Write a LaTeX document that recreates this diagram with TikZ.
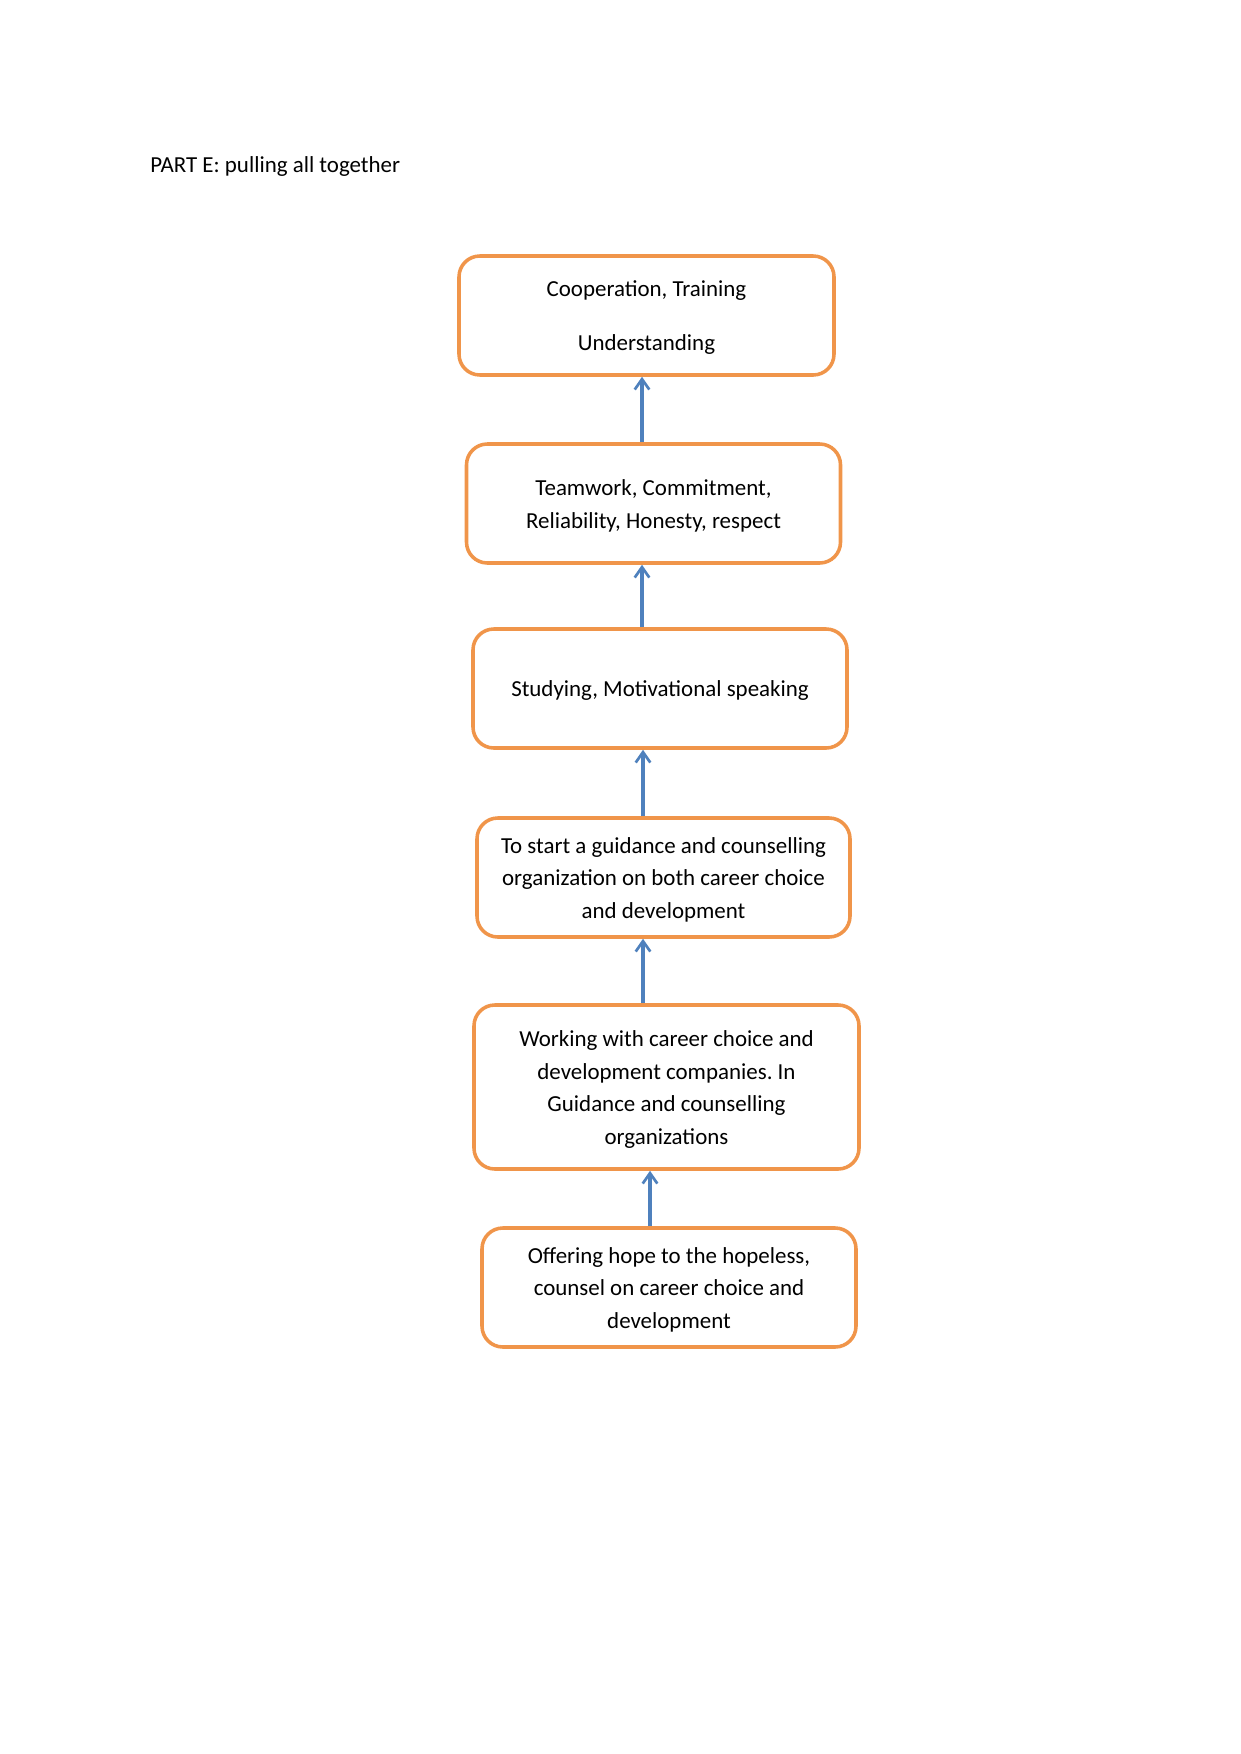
\documentclass[tikz,border=0pt]{standalone}
\usepackage{fontspec}
\setmainfont{Carlito}
\frenchspacing
\usetikzlibrary{arrows.meta}
\definecolor{boxorange}{HTML}{F0954A}
\definecolor{arrblue}{HTML}{4F81BD}
\begin{document}
\begin{tikzpicture}[x=0.4797pt,y=-0.4797pt,
  stepbox/.style={draw=boxorange, line width=1.7pt, rounded corners=10pt,
    inner sep=0pt, minimum height=119*0.4797pt},
  boxtext/.style={align=center, inner sep=0pt, yshift=-1.1pt,
    font=\fontsize{11}{15.6}\selectfont},
  arr/.style={draw=arrblue, line width=1.5pt,
    -{Straight Barb[length=5pt,width=7pt,line width=1.3pt]}}]
\useasboundingbox (0,0) rectangle (1241,1754);
\node[anchor=base west, inner sep=0pt, font=\fontsize{11}{13}\selectfont] (title) at (150,173) {PART E: pulling all together};

\node[stepbox, minimum width=375*0.4797pt,
  label={[boxtext]center:Cooperation, Training\\[10.5pt]Understanding}] (b1) at (646.5,315.5) {};
\node[stepbox, minimum width=374*0.4797pt,
  label={[boxtext]center:Teamwork, Commitment,\\Reliability, Honesty, respect}] (b2) at (653.5,503.5) {};
\node[stepbox, minimum width=374*0.4797pt,
  label={[boxtext]center:Studying, Motivational speaking}] (b3) at (660,688.5) {};
\node[stepbox, minimum width=373*0.4797pt,
  label={[boxtext]center:To start a guidance and counselling\\organization on both career choice\\and development}] (b4) at (663.5,877.5) {};
\node[stepbox, minimum width=385*0.4797pt, minimum height=164*0.4797pt,
  label={[boxtext]center:Working with career choice and\\development companies. In\\Guidance and counselling\\organizations}] (b5) at (666.5,1087) {};
\node[stepbox, minimum width=374*0.4797pt,
  label={[boxtext]center:Offering hope to the hopeless,\\counsel on career choice and\\development}] (b6) at (669,1287.5) {};

\coordinate (x1) at (642,0);
\coordinate (x2) at (642,0);
\coordinate (x3) at (643,0);
\coordinate (x4) at (643,0);
\coordinate (x5) at (650,0);

\draw[arr] (b2.north -| x1) -- (b1.south -| x1);
\draw[arr] (b3.north -| x2) -- (b2.south -| x2);
\draw[arr] (b4.north -| x3) -- (b3.south -| x3);
\draw[arr] (b5.north -| x4) -- (b4.south -| x4);
\draw[arr] (b6.north -| x5) -- (b5.south -| x5);
\end{tikzpicture}
\end{document}
